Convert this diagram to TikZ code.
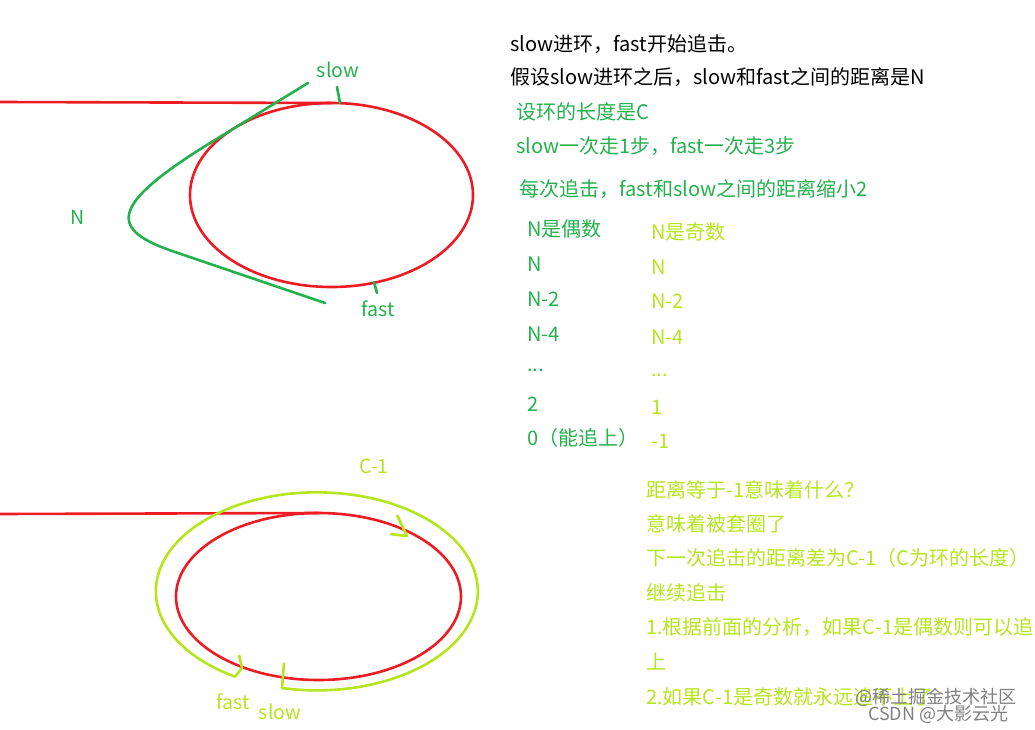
\documentclass[tikz,border=0pt]{standalone}
\usepackage{fontspec}
\setmainfont{Noto Sans CJK SC}
\usepackage{tikz}
\usetikzlibrary{positioning,calc}
\definecolor{PaintRed}{HTML}{ED1C24}
\definecolor{PaintGreen}{HTML}{22B14C}
\definecolor{PaintLime}{HTML}{B5E61D}
\tikzset{
  chase/ring/.style={draw=PaintRed, line width=2.6pt},
  chase/gap/.style={draw=PaintGreen, line width=2.6pt, line cap=round},
  chase/lap/.style={draw=PaintLime, line width=2.6pt, line join=round},
  chase/text/.style={anchor=west, inner sep=0pt, font=\fontsize{20}{23}\selectfont},
  chase/label/.style={inner sep=0pt, font=\fontsize{19.5}{22}\selectfont},
  chase/black/.style={chase/text, text=black},
  chase/green/.style={chase/text, text=PaintGreen},
  chase/lime/.style={chase/text, text=PaintLime},
  chase/water/.style={anchor=west, inner sep=0pt, text=black!50, font=\fontsize{18}{20}\selectfont}
}

\begin{document}
\begin{tikzpicture}[x=1pt, y=-1pt]
  \useasboundingbox (0,0) rectangle (1035,730);

  % first case: slow enters the ring
  \coordinate (topIn) at (0,102);
  \coordinate (topC) at (331.5,195);
  \draw[chase/ring] (topIn) -- (331.5,103);
  \draw[chase/ring] (topC) ellipse [x radius=141.5pt, y radius=92pt];
  \draw[chase/gap] (308,83) -- (215,140) .. controls (105,207) and (110,230) .. (175,252) -- (325,303);
  \draw[chase/gap] (337,87) -- (340,103);
  \draw[chase/gap] (374,282) -- (377,293);
  \node[chase/label, text=PaintGreen] (slowTop) at (338,70) {slow};
  \node[chase/label, text=PaintGreen] (fastTop) at (378,309) {fast};
  \node[chase/label, text=PaintGreen] (gapN) at (78,217) {N};

  % second case: fast laps slow
  \coordinate (lowIn) at (0,514);
  \coordinate (lowC) at (318.5,596.5);
  \draw[chase/ring] (lowIn) -- (318.5,513);
  \draw[chase/ring] (lowC) ellipse [x radius=142.5pt, y radius=83.5pt];
  \draw[chase/lap] (284,663) -- (282,688) arc[start angle=102.5, end angle=-239.5, x radius=161, y radius=99]
    -- (242,668) -- (239,655);
  \draw[chase/lap] (397,515) -- (407,536) -- (390,534);
  \node[chase/label, text=PaintLime] (lapC) at (374,466) {C-1};
  \node[chase/label, text=PaintLime] (fastLow) at (233,702) {fast};
  \node[chase/label, text=PaintLime] (slowLow) at (280,712) {slow};

  % notes
  \node[chase/black] (n1) at (510,44) {slow进环，fast开始追击。};
  \node[chase/black] (n2) at (510,77) {假设slow进环之后，slow和fast之间的距离是N};
  \node[chase/green] (n3) at (516,112) {设环的长度是C};
  \node[chase/green] (n4) at (516,146) {slow一次走1步，fast一次走3步};
  \node[chase/green] (n5) at (519,189) {每次追击，fast和slow之间的距离缩小2};

  \node[chase/green] (even) at (527,229) {N是偶数};
  \node[chase/green] (even1) at (527,264) {N};
  \node[chase/green] (even2) at (527,299) {N-2};
  \node[chase/green] (even3) at (527,334) {N-4};
  \node[chase/green] (even4) at (527,370) {...};
  \node[chase/green] (even5) at (527,404) {2};
  \node[chase/green] (even6) at (527,438) {0（能追上）};

  \node[chase/lime] (odd) at (651,232) {N是奇数};
  \node[chase/lime] (odd1) at (651,267) {N};
  \node[chase/lime] (odd2) at (651,301) {N-2};
  \node[chase/lime] (odd3) at (651,337) {N-4};
  \node[chase/lime] (odd4) at (651,375) {...};
  \node[chase/lime] (odd5) at (651,407) {1};
  \node[chase/lime] (odd6) at (651,441) {-1};

  \node[chase/lime] (m1) at (646,490) {距离等于-1意味着什么？};
  \node[chase/lime] (m2) at (646,524) {意味着被套圈了};
  \node[chase/lime] (m3) at (646,558) {下一次追击的距离差为C-1（C为环的长度）};
  \node[chase/lime] (m4) at (646,593) {继续追击};
  \node[chase/lime] (m5) at (646,627) {1.根据前面的分析，如果C-1是偶数则可以追};
  \node[chase/lime] (m6) at (646,662) {上};
  \node[chase/lime] (m7) at (646,697) {2.如果C-1是奇数就永远追不上了};

  \node[chase/water] (wm1) at (855,697) {@稀土掘金技术社区};
  \node[chase/water] (wm2) at (868,714) {CSDN @大影云光};
\end{tikzpicture}
\end{document}
